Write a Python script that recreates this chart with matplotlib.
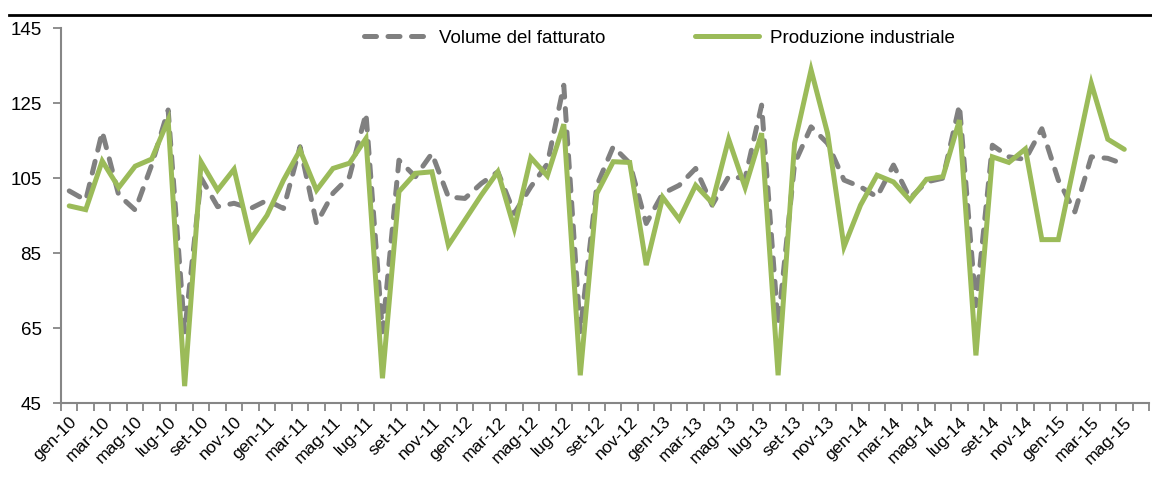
import matplotlib
matplotlib.use("Agg")
import matplotlib.pyplot as plt
from matplotlib.lines import Line2D

plt.rcParams['font.family'] = ['Liberation Sans', 'DejaVu Sans']

months = ["gen", "feb", "mar", "apr", "mag", "giu", "lug", "ago", "set", "ott", "nov", "dic"]
categories = [f"{m}-{y}" for y in ["10", "11", "12", "13", "14", "15"] for m in months][:66]

volume_fatturato = [
    101.6, 99.1, 117.4, 100.5, 96.5, 108.5, 123.2, 64.0, 105.0, 97.4, 98.3, 96.9,
    99.1, 96.9, 113.4, 92.9, 101.0, 105.4, 122.3, 64.0, 109.8, 105.4, 111.6, 100.0,
    99.6, 103.6, 106.7, 95.6, 102.7, 108.8, 129.8, 64.0, 103.0, 113.4, 109.0, 92.9,
    100.9, 103.1, 107.6, 97.8, 105.4, 105.0, 124.5, 66.0, 108.9, 118.7, 114.3, 104.5,
    102.7, 100.0, 108.5, 99.6, 104.0, 105.0, 124.5, 71.0, 113.8, 110.7, 110.0, 118.2,
    104.5, 96.0, 110.7, 110.3, 108.7,
]
produzione_industriale = [
    97.6, 96.6, 109.6, 102.5, 108.2, 110.1, 120.5, 49.5, 109.3, 101.8, 107.4, 88.7,
    95.1, 104.5, 112.5, 101.8, 107.6, 109.0, 115.6, 51.6, 101.4, 106.3, 106.7, 87.1,
    93.8, 100.5, 106.7, 91.6, 110.5, 105.6, 119.4, 52.4, 100.9, 109.4, 109.2, 81.8,
    99.9, 94.0, 103.1, 98.4, 115.4, 102.5, 117.0, 52.4, 114.3, 133.9, 117.0, 86.7,
    97.8, 105.8, 104.0, 99.1, 104.7, 105.4, 120.5, 57.7, 110.7, 109.2, 112.8, 88.6,
    88.6, 109.5, 130.3, 115.4, 112.7,
]
y_ticks = [45, 65, 85, 105, 125, 145]

GREEN = "#9BBB59"
GRAY = "#808080"
AXIS = "#868686"

fig = plt.figure(figsize=(11.52, 4.79), dpi=100)
ax = fig.add_axes([61 / 1152, 1 - 403 / 479, (1149 - 61) / 1152, (403 - 28.3) / 479])

x_vol = list(range(len(volume_fatturato)))
x_prod = list(range(len(produzione_industriale)))

ax.plot(x_vol, volume_fatturato, color=GRAY, lw=3.6, dashes=(2.4, 2.3),
        dash_capstyle='round', solid_joinstyle='round', label="Volume del fatturato", zorder=2)
ax.plot(x_prod, produzione_industriale, color=GREEN, lw=3.6,
        solid_capstyle='round', solid_joinstyle='miter', label="Produzione industriale", zorder=3)

ax.set_xlim(-0.5, len(categories) - 0.5)
ax.set_ylim(45, 145)
ax.set_yticks(y_ticks)
ax.set_yticklabels([str(v) for v in y_ticks], fontsize=13.5)

label_pos = list(range(0, len(produzione_industriale), 2))
ax.set_xticks(label_pos)
ax.set_xticklabels([categories[i] for i in label_pos], rotation=45, ha='right',
                   rotation_mode='anchor', fontsize=12.5)
ax.set_xticks([i - 0.5 for i in range(len(categories) + 1)], minor=True)
ax.tick_params(axis='x', which='major', length=0, pad=8)
ax.tick_params(axis='x', which='minor', length=6, width=1.3, color=AXIS, direction='out')
ax.tick_params(axis='y', which='major', length=6, width=1.3, color=AXIS, direction='out', pad=8)

for s in ['top', 'right']:
    ax.spines[s].set_visible(False)
for s in ['left', 'bottom']:
    ax.spines[s].set_color(AXIS)
    ax.spines[s].set_linewidth(1.5)

fig.add_artist(Line2D([9 / 1152, 1.0], [1 - 15 / 479, 1 - 15 / 479], color='black', lw=2,
                      transform=fig.transFigure))

h_vol = Line2D([], [], color=GRAY, lw=3.6, dashes=(2.4, 2.3), dash_capstyle='round')
h_prod = Line2D([], [], color=GREEN, lw=3.6, solid_capstyle='round')
fig.legend([h_vol, h_prod], ["Volume del fatturato", "Produzione industriale"],
           loc='center left', bbox_to_anchor=(364 / 1152, 1 - 38 / 479), ncol=2, frameon=False,
           borderpad=0, borderaxespad=0,
           fontsize=13.5, handlelength=3.4, handletextpad=0.6, columnspacing=4.8)

fig.savefig("out.png", dpi=100)
